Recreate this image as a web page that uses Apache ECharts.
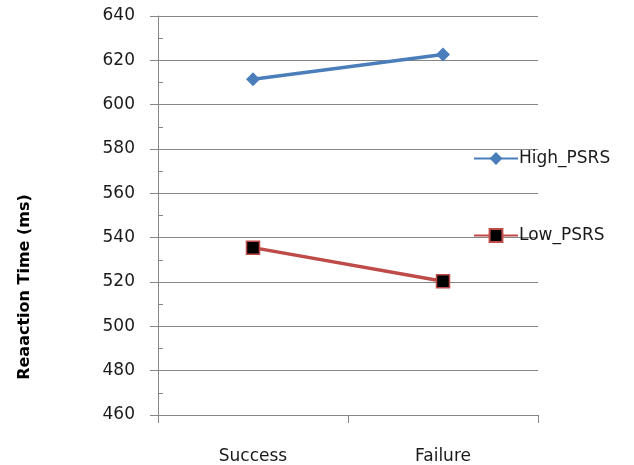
<!DOCTYPE html>
<html><head><meta charset="utf-8">
<script src="https://cdn.jsdelivr.net/npm/echarts@6/dist/echarts.min.js"></script>
<style>html,body{margin:0;padding:0;background:#fff}#c{width:634px;height:465px}</style>
</head><body><div id="c"></div>
<script>
var categories = ['Success', 'Failure'];
var highPSRS = [611.5, 622.6];
var lowPSRS = [535.5, 520.3];
var yMin = 460, yMax = 640, yStep = 20;
var yTitle = 'Reaaction Time (ms)';

var font = 'DejaVu Sans, Verdana, sans-serif';
var chart = echarts.init(document.getElementById('c'), null, {renderer: 'canvas'});
chart.setOption({
  animation: false,
  backgroundColor: '#fff',
  grid: {left: 158, right: 96, top: 16, bottom: 50},
  legend: {
    orient: 'vertical', left: 468, top: 145, itemGap: 60, itemWidth: 44, itemHeight: 16,
    textStyle: {fontFamily: font, fontSize: 17, color: '#1a1a1a', padding: [0,0,0,-4]},
    data: ['High_PSRS', 'Low_PSRS']
  },
  graphic: [{
    type: 'text', x: 25, y: 287, rotation: Math.PI / 2,
    style: {text: yTitle, font: 'bold 16px ' + font, fill: '#000', align: 'center', verticalAlign: 'middle'}
  }],
  xAxis: {
    type: 'category', data: categories, boundaryGap: true,
    axisLine: {lineStyle: {color: '#868686', width: 1}},
    axisTick: {show: true, length: 8, lineStyle: {color: '#868686'}},
    axisLabel: {margin: 33, fontFamily: font, fontSize: 17, color: '#1a1a1a'}
  },
  yAxis: [{
    type: 'value', min: yMin, max: yMax, interval: yStep,
    axisLine: {show: true, lineStyle: {color: '#868686'}},
    axisTick: {show: true, length: 8, lineStyle: {color: '#868686'}},
    axisLabel: {margin: 23, fontFamily: font, fontSize: 17, color: '#1a1a1a'},
    splitLine: {show: true, lineStyle: {color: '#868686', width: 1}}
  }, {
    type: 'value', min: yMin, max: yMax, interval: yStep / 2, position: 'left',
    axisLine: {show: false},
    axisTick: {show: true, inside: true, length: 5, lineStyle: {color: '#868686'}},
    axisLabel: {show: false},
    splitLine: {show: false}
  }],
  series: [{
    name: 'High_PSRS', type: 'line', data: highPSRS,
    symbol: 'diamond', symbolSize: 14,
    lineStyle: {color: '#4a7ebb', width: 3.5},
    itemStyle: {color: '#4a7ebb'}
  }, {
    name: 'Low_PSRS', type: 'line', data: lowPSRS,
    symbol: 'rect', symbolSize: 13,
    lineStyle: {color: '#be4b48', width: 3.5},
    itemStyle: {color: '#000', borderColor: '#be4b48', borderWidth: 1.5}
  }]
});
</script></body></html>
